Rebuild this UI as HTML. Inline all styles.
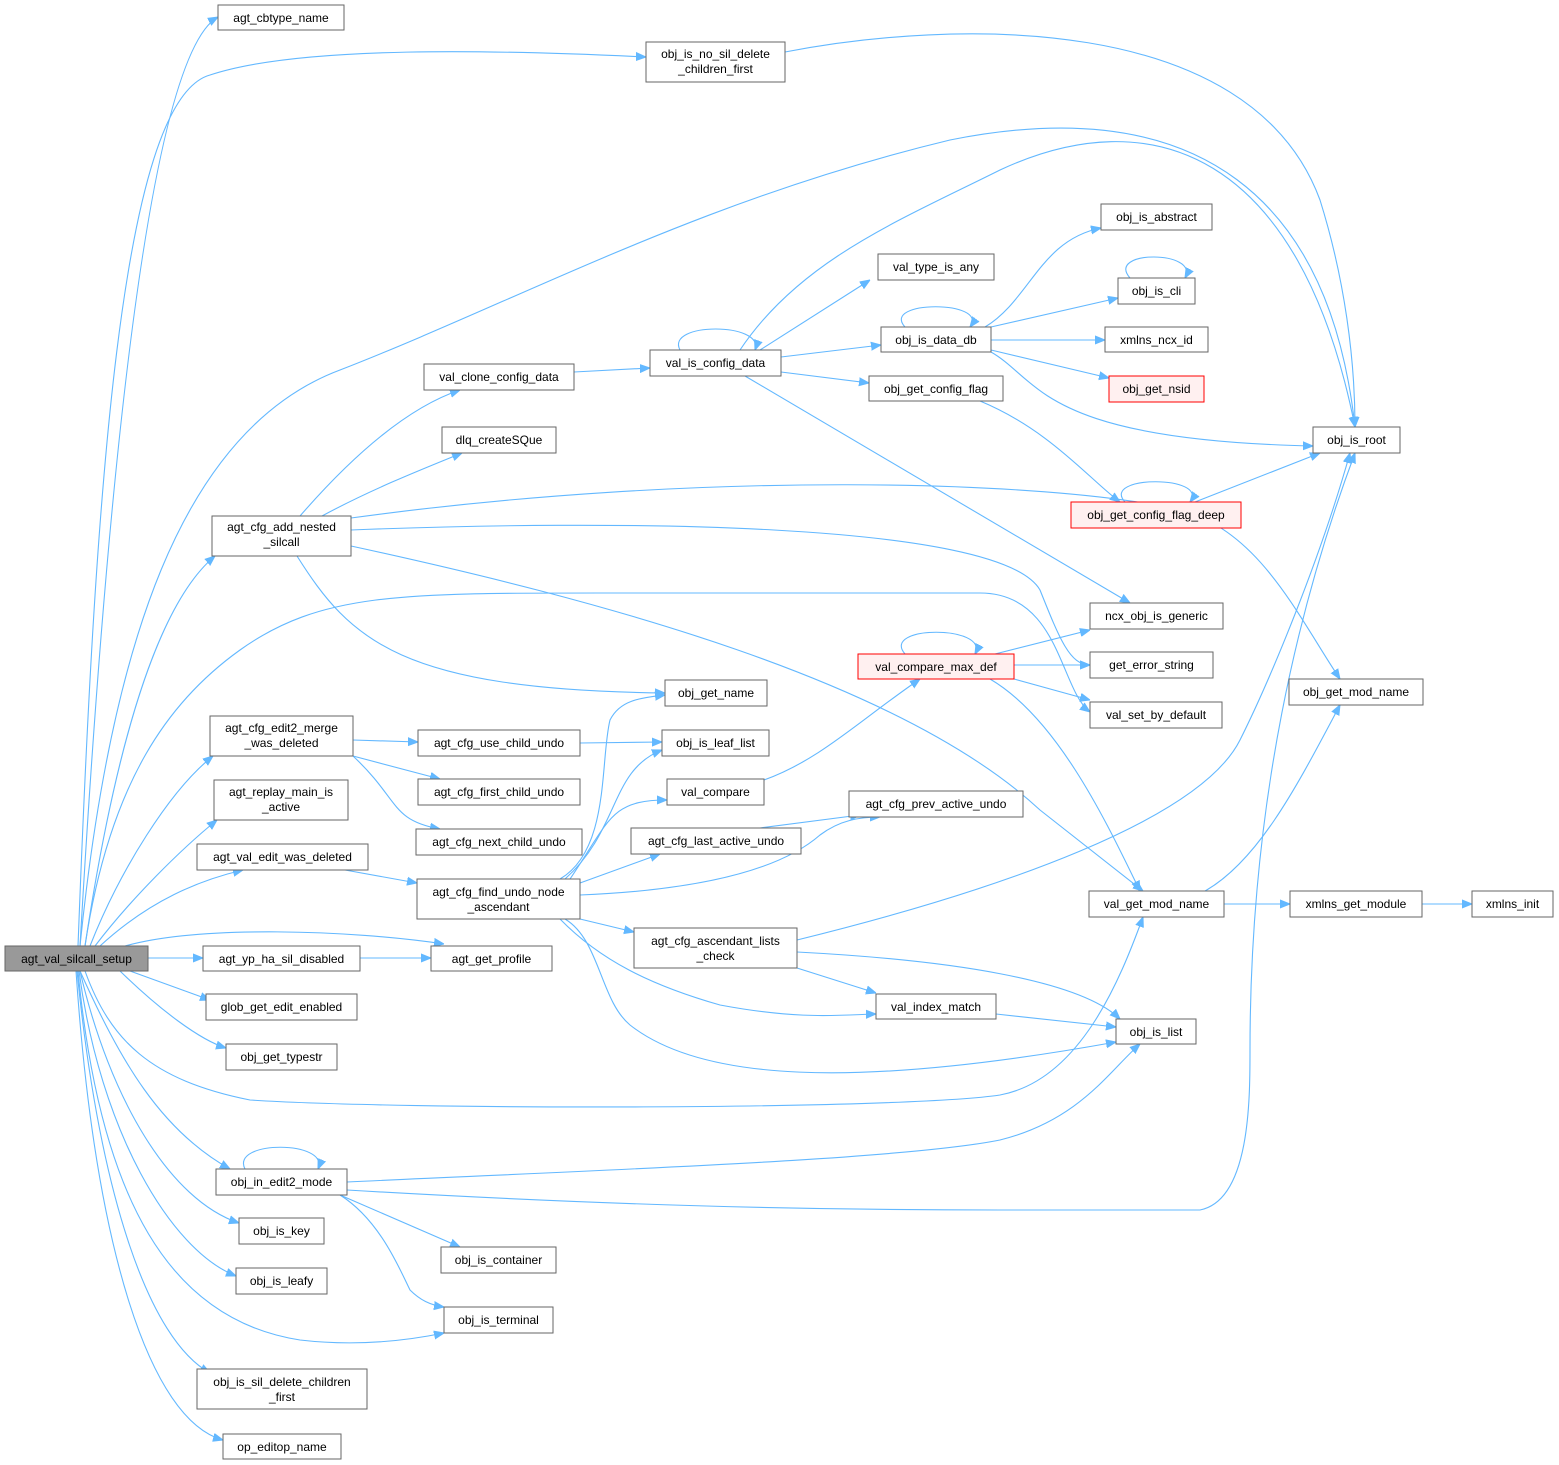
<!DOCTYPE html>
<html><head><meta charset="utf-8"><style>
html,body{margin:0;padding:0;background:#fff;}
svg{display:block;}
text{font-family:"Liberation Sans",sans-serif;font-size:12px;fill:#000;}
.e{fill:none;stroke:#63b8ff;stroke-width:1.1;marker-end:url(#a);}
.n{fill:#fff;stroke:#666;stroke-width:1;}
.r{fill:#fff0f0;stroke:#ff0000;stroke-width:1;}
</style></head><body>
<svg width="1559" height="1465" viewBox="0 0 1559 1465" xmlns="http://www.w3.org/2000/svg">
<defs><marker id="a" viewBox="0 0 10 10" refX="10" refY="5" markerWidth="10" markerHeight="10" markerUnits="userSpaceOnUse" orient="auto"><path d="M0,1 L10,5 L0,9 z" fill="#63b8ff" stroke="#63b8ff"/></marker></defs>

<!-- edges from root -->
<path class="e" d="M80,946 C100,600 140,60 218,17"/>
<path class="e" d="M78,946 C95,500 120,100 210,75 C300,45 500,50 646,57"/>
<path class="e" d="M80,946 C110,650 180,430 340,370 C520,300 700,200 950,140 C1200,90 1330,200 1355,427"/>
<path class="e" d="M85,946 C110,780 150,610 215,556"/>
<path class="e" d="M85,946 C110,780 170,700 240,650 C320,593 400,593 600,593 L980,593 C1060,593 1060,690 1090,712"/>
<path class="e" d="M90,946 C120,870 170,790 213,756"/>
<path class="e" d="M95,946 C130,900 180,850 217,820"/>
<path class="e" d="M100,946 C150,900 200,880 243,870"/>
<path class="e" d="M125,946 C200,925 350,930 444,944"/>
<path class="e" d="M148,958 L203,958"/>
<path class="e" d="M130,971 L210,1000"/>
<path class="e" d="M120,971 C160,1010 200,1040 226,1048"/>
<path class="e" d="M85,971 C110,1040 150,1080 250,1100 C400,1110 900,1110 1000,1095 C1080,1080 1120,980 1143,917"/>
<path class="e" d="M80,971 C120,1060 160,1130 230,1169"/>
<path class="e" d="M80,971 C110,1100 170,1200 239,1223"/>
<path class="e" d="M79,971 C100,1130 170,1250 236,1276"/>
<path class="e" d="M78,971 C100,1200 170,1320 300,1340 C360,1347 410,1340 444,1333"/>
<path class="e" d="M77,971 C100,1200 150,1340 210,1373"/>
<path class="e" d="M76,971 C95,1250 150,1420 223,1440"/>

<!-- no_sil -> root -->
<path class="e" d="M785,52 C950,20 1250,10 1320,200 C1345,280 1355,360 1355,427"/>

<!-- agt_cfg_add_nested -->
<path class="e" d="M300,516 C340,470 400,410 460,390"/>
<path class="e" d="M322,516 C370,490 420,470 462,453"/>
<path class="e" d="M351,518 C700,470 1050,480 1180,510 C1260,530 1300,620 1340,679"/>
<path class="e" d="M351,530 C600,520 1000,520 1040,590 C1060,640 1070,665 1090,665"/>
<path class="e" d="M351,546 C600,600 900,680 1040,810 L1143,891"/>
<path class="e" d="M297,556 C350,640 400,690 665,693"/>

<!-- val_is_config_data -->
<path class="e" d="M574,372 L650,368"/>
<path class="e" d="M680,350 C665,322 765,322 755,350"/>
<path class="e" d="M760,350 L870,280"/>
<path class="e" d="M781,357 L881,345"/>
<path class="e" d="M781,372 L869,383"/>
<path class="e" d="M745,376 L1130,603"/>
<path class="e" d="M740,350 C800,260 900,220 1000,170 C1150,100 1300,150 1355,427"/>

<!-- obj_is_data_db -->
<path class="e" d="M905,327 C880,300 990,300 970,327"/>
<path class="e" d="M985,327 C1030,300 1040,240 1101,228"/>
<path class="e" d="M991,327 L1118,298"/>
<path class="e" d="M991,340 L1105,340"/>
<path class="e" d="M991,350 L1109,378"/>
<path class="e" d="M991,352 C1040,380 1040,440 1313,446"/>
<path class="e" d="M1130,278 C1105,250 1200,250 1185,278"/>

<path class="e" d="M980,401 C1050,430 1090,480 1120,502"/>
<path class="e" d="M1125,502 C1100,475 1210,475 1190,502"/>
<path class="e" d="M1195,502 L1320,453"/>

<!-- val_compare_max_def -->
<path class="e" d="M905,654 C880,625 990,625 975,654"/>
<path class="e" d="M995,654 L1090,630"/>
<path class="e" d="M1014,665 L1090,665"/>
<path class="e" d="M1014,679 L1090,700"/>
<path class="e" d="M990,679 C1060,720 1110,830 1140,891"/>

<!-- edit2_merge -->
<path class="e" d="M353,740 L418,742"/>
<path class="e" d="M353,756 L440,779"/>
<path class="e" d="M353,756 C400,800 390,820 440,829"/>
<path class="e" d="M580,743 L662,742"/>
<path class="e" d="M764,780 C820,760 860,720 920,679"/>
<path class="e" d="M760,828 L860,815"/>
<path class="e" d="M345,870 L417,883"/>

<!-- find_undo -->
<path class="e" d="M560,879 C610,850 600,760 610,720 C620,700 640,698 665,695"/>
<path class="e" d="M565,879 C620,830 610,770 662,750"/>
<path class="e" d="M570,879 C610,820 610,800 667,800"/>
<path class="e" d="M580,883 L660,854"/>
<path class="e" d="M580,895 C700,890 780,870 820,835 C840,820 860,817 880,817"/>
<path class="e" d="M580,919 L634,932"/>
<path class="e" d="M560,919 C600,960 650,985 720,1005 C800,1020 840,1015 876,1014"/>
<path class="e" d="M565,919 C600,940 600,1000 630,1025 C700,1080 850,1090 1116,1042"/>

<path class="e" d="M797,940 C1000,890 1200,820 1240,740 C1270,680 1320,560 1350,453"/>
<path class="e" d="M797,968 L876,993"/>
<path class="e" d="M797,952 C950,960 1080,980 1120,1019"/>
<path class="e" d="M996,1014 L1116,1027"/>
<path class="e" d="M1224,904 L1290,904"/>
<path class="e" d="M1205,891 C1260,860 1300,780 1340,705"/>
<path class="e" d="M1422,904 L1472,904"/>
<path class="e" d="M360,958 L431,958"/>

<!-- obj_in_edit2_mode -->
<path class="e" d="M245,1169 C230,1140 330,1140 318,1169"/>
<path class="e" d="M347,1182 C600,1170 900,1160 1000,1140 C1080,1120 1110,1070 1140,1044"/>
<path class="e" d="M347,1190 C600,1205 800,1210 1000,1210 L1200,1210 C1250,1200 1250,1100 1250,1050 C1250,800 1300,600 1355,453"/>
<path class="e" d="M340,1195 L460,1247"/>
<path class="e" d="M340,1195 C380,1220 400,1270 410,1290 C420,1300 430,1305 444,1307"/>

<!-- nodes -->
<rect x="5" y="946" width="143" height="25" fill="#999" stroke="#666"/><text x="76.5" y="963" text-anchor="middle">agt_val_silcall_setup</text>
<rect class="n" x="218" y="5" width="126" height="25"/><text x="281" y="22" text-anchor="middle">agt_cbtype_name</text>
<rect class="n" x="646" y="42" width="139" height="40"/><text x="715.5" y="58" text-anchor="middle">obj_is_no_sil_delete</text><text x="715.5" y="73" text-anchor="middle">_children_first</text>
<rect class="n" x="212" y="516" width="139" height="40"/><text x="281.5" y="531" text-anchor="middle">agt_cfg_add_nested</text><text x="281.5" y="546" text-anchor="middle">_silcall</text>
<rect class="n" x="424" y="364" width="150" height="26"/><text x="499" y="381" text-anchor="middle">val_clone_config_data</text>
<rect class="n" x="442" y="427" width="114" height="26"/><text x="499" y="444" text-anchor="middle">dlq_createSQue</text>
<rect class="n" x="650" y="350" width="131" height="26"/><text x="715.5" y="367" text-anchor="middle">val_is_config_data</text>
<rect class="n" x="878" y="254" width="116" height="26"/><text x="936" y="271" text-anchor="middle">val_type_is_any</text>
<rect class="n" x="881" y="327" width="110" height="25"/><text x="936" y="344" text-anchor="middle">obj_is_data_db</text>
<rect class="n" x="869" y="376" width="134" height="25"/><text x="936" y="393" text-anchor="middle">obj_get_config_flag</text>
<rect class="n" x="1101" y="204" width="111" height="26"/><text x="1156.5" y="221" text-anchor="middle">obj_is_abstract</text>
<rect class="n" x="1118" y="278" width="77" height="26"/><text x="1156.5" y="295" text-anchor="middle">obj_is_cli</text>
<rect class="n" x="1105" y="327" width="103" height="25"/><text x="1156.5" y="344" text-anchor="middle">xmlns_ncx_id</text>
<rect class="r" x="1109" y="376" width="95" height="26"/><text x="1156.5" y="393" text-anchor="middle">obj_get_nsid</text>
<rect class="n" x="1313" y="427" width="87" height="26"/><text x="1356.5" y="444" text-anchor="middle">obj_is_root</text>
<rect class="r" x="1071" y="502" width="170" height="26"/><text x="1156" y="519" text-anchor="middle">obj_get_config_flag_deep</text>
<rect class="n" x="1090" y="603" width="133" height="26"/><text x="1156.5" y="620" text-anchor="middle">ncx_obj_is_generic</text>
<rect class="r" x="858" y="654" width="156" height="25"/><text x="936" y="671" text-anchor="middle">val_compare_max_def</text>
<rect class="n" x="1090" y="652" width="123" height="26"/><text x="1151.5" y="669" text-anchor="middle">get_error_string</text>
<rect class="n" x="1090" y="702" width="132" height="26"/><text x="1156" y="719" text-anchor="middle">val_set_by_default</text>
<rect class="n" x="1289" y="679" width="134" height="26"/><text x="1356" y="696" text-anchor="middle">obj_get_mod_name</text>
<rect class="n" x="665" y="680" width="102" height="26"/><text x="716" y="697" text-anchor="middle">obj_get_name</text>
<rect class="n" x="662" y="730" width="107" height="26"/><text x="715.5" y="747" text-anchor="middle">obj_is_leaf_list</text>
<rect class="n" x="667" y="779" width="97" height="26"/><text x="715.5" y="796" text-anchor="middle">val_compare</text>
<rect class="n" x="849" y="791" width="174" height="26"/><text x="936" y="808" text-anchor="middle">agt_cfg_prev_active_undo</text>
<rect class="n" x="631" y="828" width="170" height="26"/><text x="716" y="845" text-anchor="middle">agt_cfg_last_active_undo</text>
<rect class="n" x="210" y="716" width="143" height="40"/><text x="281.5" y="732" text-anchor="middle">agt_cfg_edit2_merge</text><text x="281.5" y="747" text-anchor="middle">_was_deleted</text>
<rect class="n" x="418" y="730" width="162" height="26"/><text x="499" y="747" text-anchor="middle">agt_cfg_use_child_undo</text>
<rect class="n" x="418" y="779" width="162" height="26"/><text x="499" y="796" text-anchor="middle">agt_cfg_first_child_undo</text>
<rect class="n" x="416" y="829" width="166" height="26"/><text x="499" y="846" text-anchor="middle">agt_cfg_next_child_undo</text>
<rect class="n" x="214" y="780" width="134" height="40"/><text x="281" y="796" text-anchor="middle">agt_replay_main_is</text><text x="281" y="811" text-anchor="middle">_active</text>
<rect class="n" x="197" y="844" width="171" height="26"/><text x="282.5" y="861" text-anchor="middle">agt_val_edit_was_deleted</text>
<rect class="n" x="417" y="879" width="163" height="40"/><text x="498.5" y="896" text-anchor="middle">agt_cfg_find_undo_node</text><text x="498.5" y="911" text-anchor="middle">_ascendant</text>
<rect class="n" x="1089" y="891" width="135" height="26"/><text x="1156.5" y="908" text-anchor="middle">val_get_mod_name</text>
<rect class="n" x="1290" y="891" width="132" height="26"/><text x="1356" y="908" text-anchor="middle">xmlns_get_module</text>
<rect class="n" x="1472" y="891" width="81" height="26"/><text x="1512.5" y="908" text-anchor="middle">xmlns_init</text>
<rect class="n" x="634" y="928" width="163" height="40"/><text x="715.5" y="945" text-anchor="middle">agt_cfg_ascendant_lists</text><text x="715.5" y="960" text-anchor="middle">_check</text>
<rect class="n" x="203" y="946" width="157" height="25"/><text x="281.5" y="963" text-anchor="middle">agt_yp_ha_sil_disabled</text>
<rect class="n" x="431" y="946" width="121" height="25"/><text x="491.5" y="963" text-anchor="middle">agt_get_profile</text>
<rect class="n" x="876" y="994" width="120" height="25"/><text x="936" y="1011" text-anchor="middle">val_index_match</text>
<rect class="n" x="1116" y="1019" width="80" height="25"/><text x="1156" y="1036" text-anchor="middle">obj_is_list</text>
<rect class="n" x="206" y="994" width="151" height="26"/><text x="281.5" y="1011" text-anchor="middle">glob_get_edit_enabled</text>
<rect class="n" x="226" y="1044" width="111" height="26"/><text x="281.5" y="1061" text-anchor="middle">obj_get_typestr</text>
<rect class="n" x="216" y="1169" width="131" height="26"/><text x="281.5" y="1186" text-anchor="middle">obj_in_edit2_mode</text>
<rect class="n" x="239" y="1218" width="85" height="26"/><text x="281.5" y="1235" text-anchor="middle">obj_is_key</text>
<rect class="n" x="441" y="1247" width="115" height="26"/><text x="498.5" y="1264" text-anchor="middle">obj_is_container</text>
<rect class="n" x="236" y="1268" width="91" height="26"/><text x="281.5" y="1285" text-anchor="middle">obj_is_leafy</text>
<rect class="n" x="444" y="1307" width="109" height="26"/><text x="498.5" y="1324" text-anchor="middle">obj_is_terminal</text>
<rect class="n" x="197" y="1369" width="170" height="40"/><text x="282" y="1386" text-anchor="middle">obj_is_sil_delete_children</text><text x="282" y="1401" text-anchor="middle">_first</text>
<rect class="n" x="223" y="1434" width="118" height="25"/><text x="282" y="1451" text-anchor="middle">op_editop_name</text>
</svg>
</body></html>
